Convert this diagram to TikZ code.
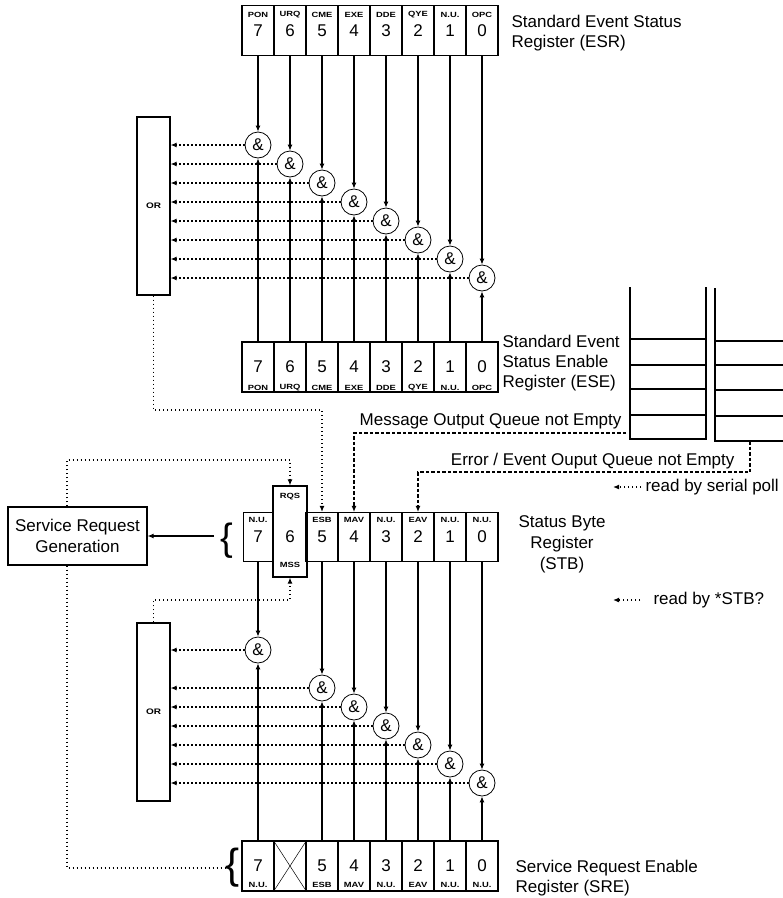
\documentclass[tikz,border=0pt]{standalone}
\usepackage{fontspec}
\setmainfont{Liberation Sans}
\newfontfamily\tagfont[FakeStretch=1.25]{Liberation Sans}
\usetikzlibrary{arrows.meta}

\tikzset{
  reg/.style={draw, minimum width=32, minimum height=50, inner sep=0pt, font=\fontsize{17}{17}\selectfont},
  digit/.style={inner sep=0pt, font=\fontsize{17}{17}\selectfont},
  tag/.style={inner sep=0pt, font=\tagfont\bfseries\fontsize{7.5}{8}\selectfont},
  andgate/.style={draw, circle, line width=0.8pt, minimum size=26, inner sep=0pt, font=\fontsize{17}{17}\selectfont},
  orbox/.style={draw, minimum width=33, minimum height=178, inner sep=0pt, font=\tagfont\bfseries\fontsize{8}{8}\selectfont},
  lbl/.style={inner sep=0pt, font=\fontsize{17}{20}\selectfont},
  brace/.style={inner sep=0pt, font=\fontsize{#1}{#1}\selectfont},
  sig/.style={-{Latex[length=6pt,width=5pt]}},
  dotline/.style={dash pattern=on 1.4pt off 2.6pt, line width=1.2pt},
  dots/.style={dotline, sig},
  queue/.style={sig, dash pattern=on 3.5pt off 2pt}
}

\begin{document}
\begin{tikzpicture}[x=1pt, y=-1pt, line width=1.1pt]
\useasboundingbox (0,0) rectangle (783,898);
\node[orbox] (ora) at (153.5,206) {OR};
\node[orbox] (orb) at (153.5,712) {OR};
% ESR, ESE and the and-gates between them
\foreach \b/\t [count=\i from 0] in {7/PON,6/URQ,5/CME,4/EXE,3/DDE,2/QYE,1/N.U.,0/OPC}{
  \node[reg] (esr\b) at ({258+32*\i},30.5) {\b}; \node[tag] (esrt\b) at ({258+32*\i},15) {\t};
  \node[reg] (ese\b) at ({258+32*\i},367) {\b}; \node[tag] (eset\b) at ({258+32*\i},388) {\t};
  \node[andgate] (ga\b) at ({258+32*\i},{145+19*\i}) {\&};
  \draw[sig] (esr\b) -- (ga\b); \draw[sig] (ese\b) -- (ga\b); \draw[dots] (ga\b) -- (ga\b -| ora.east);
}
% STB, SRE and the and-gates between them
\foreach \b/\t/\i in {7/N.U./0,5/ESB/2,4/MAV/3,3/N.U./4,2/EAV/5,1/N.U./6,0/N.U./7}{
  \pgfmathsetmacro\gy{\i==0 ? 650 : 688+19*(\i-2)}
  \node[reg, minimum height=49, minimum width={\b==7 ? 29 : 32}] (stb\b) at ({258+32*\i},537) {\b};
  \node[tag] (stbt\b) at ({258+32*\i},520) {\t};
  \node[reg] (sre\b) at ({258+32*\i},866) {\b}; \node[tag] (sret\b) at ({258+32*\i},885) {\t};
  \node[andgate] (gb\b) at ({258+32*\i},\gy) {\&};
  \draw[sig] (stb\b) -- (gb\b); \draw[sig] (sre\b) -- (gb\b); \draw[dots] (gb\b) -- (gb\b -| orb.east);
}
\node[reg, minimum width=34, minimum height=91] (stb6) at (290,531.5) {};
\node[digit] (stbn6) at (290,537) {6}; \node[tag] (stbt6) at (290,497) {RQS}; \node[tag] (stbm6) at (290,565) {MSS};
\node[reg] (sre6) at (290,866) {};
\draw[line width=0.5pt] (sre6.north west) -- (sre6.south east) (sre6.north east) -- (sre6.south west);
\node[brace=38] (brs) at (227,541) {\{};
\node[brace=42] (brr) at (233,868) {\{};
\node[draw, lbl, align=center, minimum width=139, minimum height=58, font=\fontsize{17}{21}\selectfont] (srg) at (77.5,536) {Service Request\\Generation};
\draw[sig, shorten <=6pt] (brs.west |- srg.east) -- (srg.east);
\draw[dots] ([xshift=-10.5pt]srg.north) |- (stb6.north |- 0,460) -- (stb6.north);
\draw[dotline] ([xshift=-10.5pt]srg.south) |- (brr.west);
\draw[dots] (ora.south) |- (stb5.north |- 0,410) -- (stb5.north);
\draw[dots] (orb.north) |- (stb6.south |- 0,600) -- (stb6.south);
% output queues
\draw (630,287) |- (706,439) -- (706,287);
\foreach \y in {339,365,389,415} \draw (630,\y) -- (706,\y);
\draw (715,288) |- (783,441);
\foreach \y in {341,365,390,416} \draw (715,\y) -- (783,\y);
\coordinate (mqo) at (626,433); \coordinate (eqo) at (750,441);
\draw[queue] (mqo) -| (stb4.north);
\draw[queue] (eqo) |- (stb2.north |- 0,472) -- (stb2.north);
\node[lbl, anchor=base east] (mql) at (622,425) {Message Output Queue not Empty};
\node[lbl, anchor=base east] (eql) at (735,465) {Error / Event Ouput Queue not Empty};
% register names and legend
\node[lbl, align=left, anchor=west] (esrl) at (511,33) {Standard Event Status\\Register (ESR)};
\node[lbl, align=left, anchor=west] (esel) at (502,363) {Standard Event\\Status Enable\\Register (ESE)};
\node[lbl, align=center, font=\fontsize{17}{21}\selectfont] (stbl) at (562,544) {Status Byte\\Register\\(STB)};
\node[lbl, align=left, anchor=west] (srel) at (515,878) {Service Request Enable\\Register (SRE)};
\node[lbl, anchor=west] (rsp) at (645,487) {read by serial poll};
\draw[dots] ([xshift=-4pt]rsp.west) -- ++(-28,0);
\node[lbl, anchor=west] (rstb) at (653,600) {read by *STB?};
\draw[dots] ([xshift=-13pt]rstb.west) -- ++(-27,0);
\end{tikzpicture}
\end{document}
